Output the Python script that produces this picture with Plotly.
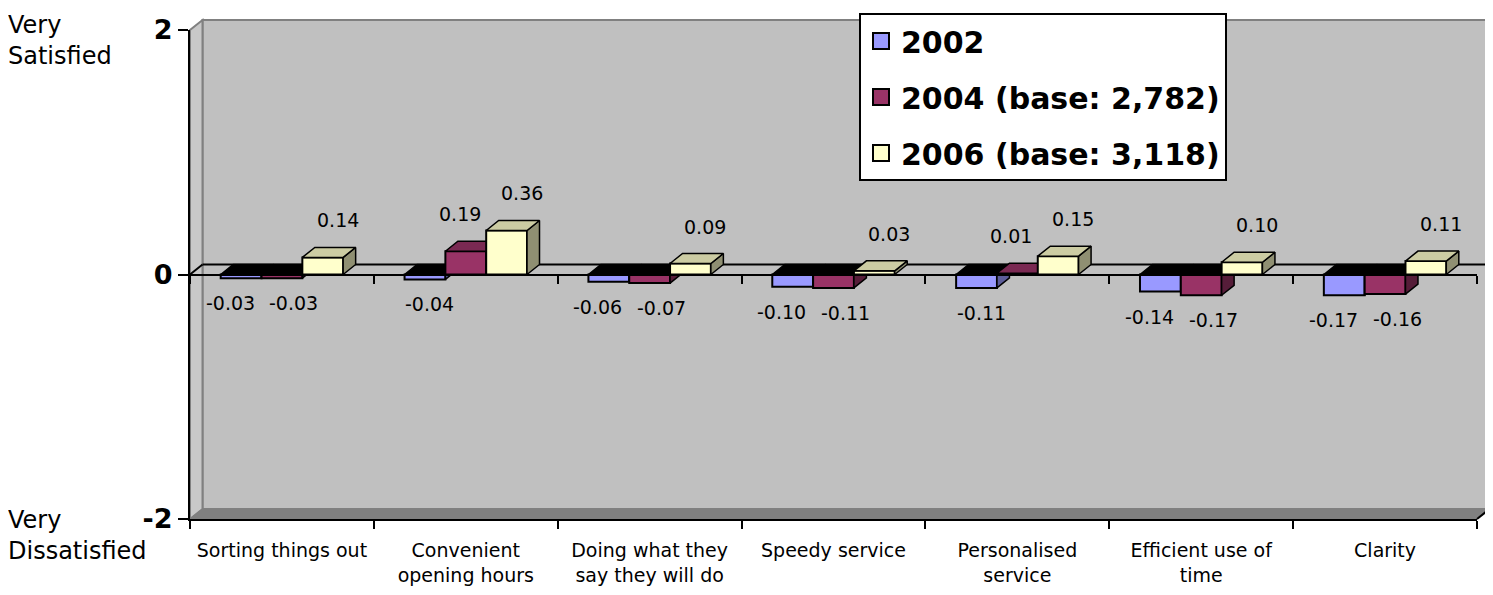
import plotly.graph_objects as go

# ---------------- data ----------------
categories = ["Sorting things out", "Convenient<br>opening hours", "Doing what they<br>say they will do",
              "Speedy service", "Personalised<br>service", "Efficient use of<br>time", "Clarity"]
series_names = ["2002", "2004 (base: 2,782)", "2006 (base: 3,118)"]
values_2002 = [-0.03, -0.04, -0.06, -0.10, -0.11, -0.14, -0.17]
values_2004 = [-0.03, 0.19, -0.07, -0.11, 0.01, -0.17, -0.16]
values_2006 = [0.14, 0.36, 0.09, 0.03, 0.15, 0.10, 0.11]
y_tick_values = [-2, 0, 2]
y_tick_labels = ["-2", "0", "2"]

# ---------------- layout constants ----------------
PAGE_OFF = 8                       # default body margin of the html page
W, H = 1493 - PAGE_OFF, 595 - PAGE_OFF
ML, MT = 190 - PAGE_OFF, 30 - PAGE_OFF
PW, PH = 1287, 489
MR, MB = W - ML - PW, H - MT - PH
NCAT = len(categories)
XR = [-0.5, NCAT - 0.5]
YR = [-2, 2]
DEPTH_X_PX, DEPTH_Y_PX = 12.5, 10
dxd = DEPTH_X_PX * (XR[1] - XR[0]) / PW
dyd = DEPTH_Y_PX * (YR[1] - YR[0]) / PH
dxp = DEPTH_X_PX / PW
dyp = DEPTH_Y_PX / PH
BAR_W = 0.222

front_colors = ["#9999FF", "#993366", "#FFFFCC"]
top_colors = ["#7A7ACC", "#7A2952", "#CCCCA3"]
side_colors = ["#5C5C99", "#561D39", "#8F8F72"]
FONT = "DejaVu Sans"


def px_x(px):
    """screen pixel -> paper x"""
    return (px - PAGE_OFF - ML) / PW


def px_y(py):
    """screen pixel -> paper y"""
    return 1 - (py - PAGE_OFF - MT) / PH


fig = go.Figure()
all_values = [values_2002, values_2004, values_2006]
axis_ids = ["x", "x2", "x3"]

annotations = []
for k, vals in enumerate(all_values):
    off = (k - 1) * BAR_W
    xa = axis_ids[k]
    xs = [i + off for i in range(NCAT)]
    fig.add_trace(go.Bar(
        x=xs, y=vals, width=BAR_W, name=series_names[k], showlegend=False,
        marker=dict(color=front_colors[k], line=dict(color="black", width=2)),
        xaxis=xa, yaxis="y", hoverinfo="y"))
    side_x, side_y = [], []
    toppos_x, toppos_y = [], []
    topneg_x, topneg_y = [], []
    for i, v in enumerate(vals):
        l = xs[i] - BAR_W / 2
        r = xs[i] + BAR_W / 2
        side_x += [r, r + dxd, r + dxd, r, r, None]
        side_y += [0, dyd, v + dyd, v, 0, None]
        t = max(v, 0)
        px_ = [l, r, r + dxd, l + dxd, l, None]
        py_ = [t, t, t + dyd, t + dyd, t, None]
        if v > 0:
            toppos_x += px_
            toppos_y += py_
        else:
            topneg_x += px_
            topneg_y += py_
    for fx, fy, fc in [(side_x, side_y, side_colors[k]),
                       (toppos_x, toppos_y, top_colors[k]),
                       (topneg_x, topneg_y, "#000000")]:
        if fx:
            fig.add_trace(go.Scatter(
                x=fx, y=fy, mode="lines", fill="toself", fillcolor=fc,
                line=dict(color="black", width=1.5), xaxis=xa, yaxis="y",
                showlegend=False, hoverinfo="skip"))
    # data labels
    for i, v in enumerate(vals):
        if k == 2:
            xshift = 15
        elif k == 1:
            xshift = -6 if v > 0 else 12
        else:
            xshift = -11 if values_2004[i] < 0 else 5
        annotations.append(dict(
            x=xs[i], y=v, xref="x", yref="y", text=f"{v:.2f}", showarrow=False,
            xshift=xshift, yshift=37 if v > 0 else -25,
            font=dict(family=FONT, size=19, color="black")))

# legend entries
for k in range(3):
    fig.add_trace(go.Scatter(
        x=[None], y=[None], mode="markers", name=series_names[k],
        legendgroup=series_names[k],
        marker=dict(symbol="square", size=16, color=front_colors[k],
                    line=dict(color="black", width=2)),
        xaxis="x", yaxis="y", hoverinfo="skip"))

# helper traces so the tick-only axes are drawn
for xa in ["x4", "x5"]:
    fig.add_trace(go.Scatter(x=[None], y=[None], xaxis=xa, yaxis="y",
                             showlegend=False, hoverinfo="skip"))

# walls / floor / zero plane (3-D decoration)
shapes = [
    dict(type="rect", xref="paper", yref="paper", x0=dxp, x1=1 + dxp, y0=dyp, y1=1 + dyp,
         fillcolor="#C0C0C0", line=dict(color="#808080", width=2), layer="below"),
    dict(type="path", xref="paper", yref="paper",
         path=f"M 0 0 L {dxp} {dyp} L {dxp} {1 + dyp} L 0 1 Z",
         fillcolor="#C8C8C8", line=dict(color="#808080", width=2), layer="below"),
    dict(type="path", xref="paper", yref="paper",
         path=f"M 0 0 L 1 0 L {1 + dxp} {dyp} L {dxp} {dyp} Z",
         fillcolor="#808080", line=dict(color="#808080", width=1), layer="below"),
    dict(type="line", xref="paper", yref="paper", x0=1, y0=0, x1=1 + dxp, y1=dyp,
         line=dict(color="black", width=2), layer="below"),
    dict(type="line", xref="paper", yref="paper", x0=dxp, x1=1 + dxp, y0=0.5 + dyp, y1=0.5 + dyp,
         line=dict(color="black", width=2), layer="below"),
    dict(type="line", xref="paper", yref="paper", x0=0, x1=dxp, y0=0.5, y1=0.5 + dyp,
         line=dict(color="black", width=2), layer="below"),
]

annotations += [
    dict(xref="paper", yref="paper", x=px_x(6), y=px_y(9), xanchor="left", yanchor="top",
         text="Very<br>Satisfied", showarrow=False, align="left",
         font=dict(family=FONT, size=24, color="black")),
    dict(xref="paper", yref="paper", x=px_x(6), y=px_y(504), xanchor="left", yanchor="top",
         text="Very<br>Dissatisfied", showarrow=False, align="left",
         font=dict(family=FONT, size=24, color="black")),
]

boundaries = [i - 0.5 for i in range(NCAT + 1)]
common_x = dict(range=XR, domain=[0, 1], showgrid=False, zeroline=False, fixedrange=True)
fig.update_layout(
    width=W, height=H,
    margin=dict(l=ML, r=MR, t=MT, b=MB, pad=0, autoexpand=False),
    paper_bgcolor="white", plot_bgcolor="rgba(0,0,0,0)",
    barmode="overlay",
    showlegend=True,
    legend=dict(x=px_x(859), y=px_y(13), xanchor="left", yanchor="top",
                bgcolor="white", bordercolor="black", borderwidth=2,
                font=dict(family=FONT, size=30, color="black", weight="bold"),
                tracegroupgap=14, itemsizing="trace"),
    xaxis=dict(**common_x, tickmode="array", tickvals=list(range(NCAT)), ticktext=categories,
               ticks="", showline=False, anchor="y", ticklabelstandoff=18,
               tickfont=dict(family=FONT, size=19, color="black")),
    xaxis2=dict(**common_x, overlaying="x", anchor="y", visible=False),
    xaxis3=dict(**common_x, overlaying="x", anchor="y", visible=False),
    xaxis4=dict(**common_x, overlaying="x", anchor="y", tickmode="array", tickvals=boundaries,
                ticks="outside", ticklen=8, tickwidth=2, tickcolor="black",
                showticklabels=False, showline=True, linecolor="black", linewidth=2),
    xaxis5=dict(**common_x, overlaying="x", anchor="free", position=0.5, tickmode="array",
                tickvals=boundaries, ticks="outside", ticklen=8, tickwidth=2, tickcolor="black",
                showticklabels=False, showline=True, linecolor="black", linewidth=2),
    yaxis=dict(range=YR, domain=[0, 1], tickmode="array", tickvals=y_tick_values,
               ticktext=y_tick_labels, ticks="outside", ticklen=10, tickwidth=2,
               tickcolor="black", showline=True, linecolor="black", linewidth=2,
               showgrid=False, zeroline=False, fixedrange=True,
               tickfont=dict(family=FONT, size=27, color="black", weight="bold")),
    shapes=shapes,
    annotations=annotations,
)

fig.write_html("out.html")
